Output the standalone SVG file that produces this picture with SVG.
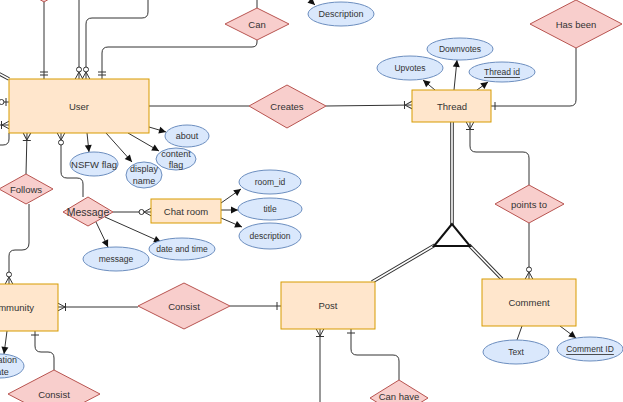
<svg xmlns="http://www.w3.org/2000/svg" width="623" height="402" viewBox="0 0 623 402">
  <style>
    text { font-family: "Liberation Sans", Arial, sans-serif; fill: #333; text-anchor: middle; dominant-baseline: central; }
    .lbl { font-size: 9.5px; }
    .att { font-size: 9px; }
    .entity { fill: #ffe6cc; stroke: #d79b00; stroke-width: 1; }
    .rel { fill: #f8cecc; stroke: #b85450; stroke-width: 1; }
    .attr { fill: #dae8fc; stroke: #6c8ebf; stroke-width: 1; }
    .edge { fill: none; stroke: #333; stroke-width: 1; }
    .dbl-o { fill: none; stroke: #333; stroke-width: 3.6; }
    .dbl-i { fill: none; stroke: #fff; stroke-width: 1.6; }
    .arrow { marker-end: url(#arrow); }
    .m-om { marker-end: url(#oneMany); }
    .m-zm { marker-end: url(#zeroMany); }
    .m-mo { marker-end: url(#mandOne); }
    .m-o { marker-end: url(#one); }
    .m-zo { marker-end: url(#zeroOne); }
  </style>
  <defs>
    <marker id="arrow" markerUnits="userSpaceOnUse" markerWidth="10" markerHeight="10" orient="auto" overflow="visible">
      <path d="M-7,-3.5 L0,0 L-7,3.5 Z" fill="#111"/>
    </marker>
    <marker id="oneMany" markerUnits="userSpaceOnUse" markerWidth="10" markerHeight="10" orient="auto" overflow="visible">
      <path d="M-7,0 L0,-3.8 M-7,0 L0,3.8 M-7.5,-4 L-7.5,4" fill="none" stroke="#333" stroke-width="1"/>
    </marker>
    <marker id="zeroMany" markerUnits="userSpaceOnUse" markerWidth="10" markerHeight="10" orient="auto" overflow="visible">
      <path d="M-7,0 L0,-3.8 M-7,0 L0,3.8" fill="none" stroke="#333" stroke-width="1"/>
      <circle cx="-9.5" cy="0" r="2.5" fill="#fff" stroke="#333" stroke-width="1"/>
    </marker>
    <marker id="mandOne" markerUnits="userSpaceOnUse" markerWidth="10" markerHeight="10" orient="auto" overflow="visible">
      <path d="M-4,-4 L-4,4 M-7,-4 L-7,4" fill="none" stroke="#333" stroke-width="1"/>
    </marker>
    <marker id="one" markerUnits="userSpaceOnUse" markerWidth="10" markerHeight="10" orient="auto" overflow="visible">
      <path d="M-4,-4 L-4,4" fill="none" stroke="#333" stroke-width="1"/>
    </marker>
    <marker id="zeroOne" markerUnits="userSpaceOnUse" markerWidth="10" markerHeight="10" orient="auto" overflow="visible">
      <path d="M-3,-4 L-3,4" fill="none" stroke="#333" stroke-width="1"/>
      <circle cx="-7.5" cy="0" r="2.5" fill="#fff" stroke="#333" stroke-width="1"/>
    </marker>
  </defs>

  <rect width="623" height="402" fill="#fff"/>

  <!-- connectors -->
  <g id="connectors">
    <!-- is-a double lines -->
    <path class="dbl-o" d="M452,122 V226 M435,245 L372,282 M469,245 L502,279 M-6,71 L9,79"/>
    <path class="dbl-i" d="M452,122 V226 M435,245 L372,282 M469,245 L502,279 M-6,71 L9,79"/>

    <!-- user relations -->
    <path class="edge m-mo" d="M44,2 V79"/>
    <path class="edge m-zm" d="M79,0 V79"/>
    <path class="edge m-zm" d="M148,0 V12 Q148,18 142,18 H92 Q86,18 86,24 V79"/>
    <path class="edge m-mo" d="M257,40 V42 Q257,47 252,47 H108 Q102,47 102,53 V79"/>
    <path class="edge" d="M257,0 V8"/>
    <path class="edge arrow" d="M303,-6 L315,5"/>
    <path class="edge" d="M149,106 H249"/>
    <path class="edge m-om" d="M326,106 L412,105"/>
    <path class="edge m-zo" d="M-2,102 H9"/>
    <path class="edge m-om" d="M-6,125 H9"/>
    <path class="edge" d="M9,133 V139 Q9,145 3,145 H-5"/>
    <path class="edge m-om" d="M26,174 L27,133"/>
    <path class="edge m-zm" d="M83,197 V184 Q83,178 77,178 H67 Q61,178 61,172 V133"/>

    <!-- user attributes -->
    <path class="edge arrow" d="M149,127 L166,132"/>
    <path class="edge arrow" d="M87,133 L89,152"/>
    <path class="edge arrow" d="M106,133 L132,162"/>
    <path class="edge arrow" d="M128,133 L159,151"/>

    <!-- message / chat room -->
    <path class="edge m-zm" d="M113,212 H151"/>
    <path class="edge arrow" d="M221,203 L241,189"/>
    <path class="edge arrow" d="M221,210 H238"/>
    <path class="edge arrow" d="M221,218 L242,227"/>
    <path class="edge arrow" d="M96,222 L108,247"/>
    <path class="edge arrow" d="M105,217 L161,242"/>

    <!-- thread -->
    <path class="edge arrow" d="M435,90 L423,80"/>
    <path class="edge arrow" d="M454,90 L457,60"/>
    <path class="edge arrow" d="M477,90 L488,82"/>
    <path class="edge m-o" d="M576,48 V100 Q576,106 570,106 H491"/>
    <path class="edge m-om" d="M529,185 V158 Q529,152 523,152 H476 Q470,152 470,146 V122"/>
    <path class="edge m-zm" d="M529,223 V279"/>

    <!-- comment attributes -->
    <path class="edge" d="M522,326 L517,340"/>
    <path class="edge arrow" d="M560,326 L576,338"/>

    <!-- post / community -->
    <path class="edge m-o" d="M230,306 H281"/>
    <path class="edge m-om" d="M138,307 H58"/>
    <path class="edge m-om" d="M320,402 V329"/>
    <path class="edge m-o" d="M399,380 V361 Q399,355 393,355 H357 Q351,355 351,349 V329"/>
    <path class="edge m-o" d="M54,370 V358 Q54,352 48,352 H41 Q35,352 35,346 V331"/>
    <path class="edge arrow" d="M7,331 L4,354"/>
    <path class="edge m-zm" d="M29,204 V243 Q29,250 22,250 H15 Q9,250 9,256 V284"/>
  </g>

  <!-- generalisation triangle -->
  <g id="isa">
    <polygon points="452,224 434,246 470,246" fill="#fff" stroke="#111" stroke-width="2"/>
  </g>

  <!-- entities -->
  <g id="user"><rect class="entity" x="9" y="79" width="140" height="54"/><text class="lbl" x="79" y="106">User</text></g>
  <g id="thread"><rect class="entity" x="412" y="90" width="79" height="32"/><text class="lbl" x="452" y="106">Thread</text></g>
  <g id="chat-room"><rect class="entity" x="151" y="199" width="70" height="24"/><text class="lbl" x="186" y="211">Chat room</text></g>
  <g id="post"><rect class="entity" x="281" y="282" width="94" height="47"/><text class="lbl" x="328" y="305">Post</text></g>
  <g id="comment"><rect class="entity" x="482" y="279" width="94" height="47"/><text class="lbl" x="529" y="302">Comment</text></g>
  <g id="community"><rect class="entity" x="-40" y="284" width="98" height="47"/><text class="lbl" x="10" y="307">Community</text></g>

  <!-- relationships -->
  <g id="rel-top"><polygon class="rel" points="44,-34 74,-16 44,2 14,-16"/></g>
  <g id="can"><polygon class="rel" points="257,8 289,24 257,40 225,24"/><text class="lbl" x="257" y="24">Can</text></g>
  <g id="creates"><polygon class="rel" points="287,85 326,106 287,128 249,106"/><text class="lbl" x="287" y="106">Creates</text></g>
  <g id="has-been"><polygon class="rel" points="576,0 622,24 576,48 530,24"/><text class="lbl" x="576" y="24">Has been</text></g>
  <g id="points-to"><polygon class="rel" points="529,185 564,204 529,223 495,204"/><text class="lbl" x="529" y="204">points to</text></g>
  <g id="follows"><polygon class="rel" points="26,174 53,189 26,204 -1,189"/><text class="lbl" x="26" y="189">Follows</text></g>
  <g id="message"><polygon class="rel" points="88,197 113,212 88,226 63,212"/><text x="88" y="212" style="font-size:10.5px">Message</text></g>
  <g id="consist-post"><polygon class="rel" points="184,283 230,306 184,329 138,306"/><text class="lbl" x="184" y="306">Consist</text></g>
  <g id="consist-community"><polygon class="rel" points="54,370 100,394 54,418 8,394"/><text class="lbl" x="54" y="394">Consist</text></g>
  <g id="can-have"><polygon class="rel" points="399,380 428,398 399,416 370,398"/><text class="lbl" x="399" y="396">Can have</text></g>

  <!-- attributes -->
  <g id="about"><ellipse class="attr" cx="187" cy="136" rx="22" ry="11"/><text class="att" x="187" y="136">about</text></g>
  <g id="nsfw-flag"><ellipse class="attr" cx="94" cy="164" rx="24" ry="12"/><text class="att" x="94" y="164" style="font-size:9.5px">NSFW flag</text></g>
  <g id="display-name"><ellipse class="attr" cx="144" cy="175" rx="18" ry="13"/><text class="att" x="144" y="169">display</text><text class="att" x="144" y="181">name</text></g>
  <g id="content-flag"><ellipse class="attr" cx="176" cy="159" rx="20" ry="11"/><text class="att" x="176" y="154">content</text><text class="att" x="176" y="165">flag</text></g>
  <g id="description-top"><ellipse class="attr" cx="341" cy="14" rx="33" ry="12"/><text class="att" x="341" y="14">Description</text></g>
  <g id="upvotes"><ellipse class="attr" cx="410" cy="68" rx="33" ry="12"/><text class="att" x="410" y="68" style="font-size:8.5px">Upvotes</text></g>
  <g id="downvotes"><ellipse class="attr" cx="460" cy="49" rx="33" ry="11"/><text class="att" x="460" y="49" style="font-size:8.5px">Downvotes</text></g>
  <g id="thread-id"><ellipse class="attr" cx="502" cy="72" rx="33" ry="10"/><text class="att" x="502" y="72" style="font-size:8.5px" text-decoration="underline">Thread id</text></g>
  <g id="room-id"><ellipse class="attr" cx="270" cy="182" rx="31" ry="12"/><text class="att" x="270" y="182" style="font-size:8.5px">room_id</text></g>
  <g id="title"><ellipse class="attr" cx="270" cy="209" rx="32" ry="11"/><text class="att" x="270" y="209" style="font-size:8.5px">title</text></g>
  <g id="description"><ellipse class="attr" cx="270" cy="236" rx="31" ry="13"/><text class="att" x="270" y="236" style="font-size:8.5px">description</text></g>
  <g id="message-attr"><ellipse class="attr" cx="116" cy="259" rx="33" ry="12"/><text class="att" x="116" y="259" style="font-size:8.5px">message</text></g>
  <g id="date-time"><ellipse class="attr" cx="182" cy="249" rx="33" ry="11"/><text class="att" x="182" y="249" style="font-size:8.5px">date and time</text></g>
  <g id="text-attr"><ellipse class="attr" cx="516" cy="352" rx="33" ry="12"/><text class="att" x="516" y="352" style="font-size:8.5px">Text</text></g>
  <g id="comment-id"><ellipse class="attr" cx="590" cy="349" rx="33" ry="12"/><text class="att" x="590" y="349" style="font-size:8.5px" text-decoration="underline">Comment ID</text></g>
  <g id="creation-date"><ellipse class="attr" cx="0" cy="366" rx="24" ry="12"/><text class="att" x="0" y="360">Creation</text><text class="att" x="0" y="372">date</text></g>
</svg>
